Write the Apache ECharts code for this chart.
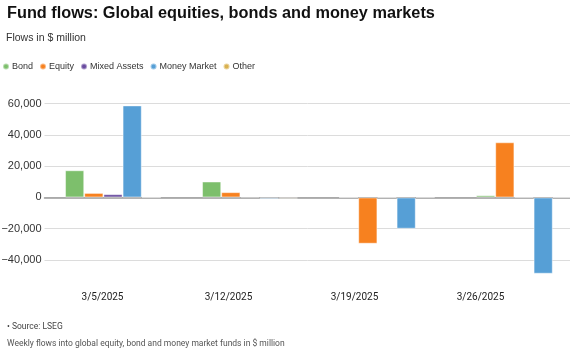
<!DOCTYPE html>
<html>
<head>
<meta charset="utf-8">
<script src="https://cdn.jsdelivr.net/npm/echarts@6/dist/echarts.min.js"></script>
<style>
html,body{margin:0;padding:0;background:#fff;}
#chart{width:570px;height:350px;}
</style>
</head>
<body>
<div id="chart"></div>
<script>
const categories = ['3/5/2025', '3/12/2025', '3/19/2025', '3/26/2025'];
const seriesNames = ['Bond', 'Equity', 'Mixed Assets', 'Money Market', 'Other'];
const bond = [17400, 10200, 100, 1400];
const equity = [2900, 3400, -29600, 35300];
const mixedAssets = [2100, 600, 100, 200];
const moneyMarket = [58900, -900, -20000, -48800];
const other = [200, -700, 300, 100];
const colors = ['#7dbf6c', '#f7811f', '#6a4ca0', '#569fd6', '#d9b14f'];

const values = [bond, equity, mixedAssets, moneyMarket, other];

const chart = echarts.init(document.getElementById('chart'), null, {renderer: 'canvas'});
const option = {
  animation: false,
  title: [
    {text: 'Fund flows: Global equities, bonds and money markets', left: 2, top: 1,
     textStyle: {fontFamily: 'Liberation Sans', fontWeight: 'bold', fontSize: 16.3, color: '#111'}},
    {text: 'Flows in $ million', left: 1, top: 28,
     textStyle: {fontFamily: 'Liberation Sans', fontWeight: 'normal', fontSize: 10.5, color: '#333'}},
    {text: '• Source: LSEG', left: 2, top: 317,
     textStyle: {fontFamily: 'Roboto', fontWeight: 'normal', fontSize: 8.5, color: '#444'}},
    {text: 'Weekly flows into global equity, bond and money market funds in $ million', left: 2, top: 334,
     textStyle: {fontFamily: 'Roboto', fontWeight: 'normal', fontSize: 8.5, color: '#555'}}
  ],
  legend: {
    left: -3, top: 57, icon: 'circle', itemWidth: 6, itemHeight: 6, itemGap: 6,
    textStyle: {fontFamily: 'Liberation Sans', fontSize: 9, color: '#333', padding: [0, 0, 0, -2]},
    data: seriesNames
  },
  grid: [
    {left: 44.5, width: 548, top: 103.7, height: 171.9, containLabel: false, outerBoundsMode: 'none'},
    {left: 39.5, width: 504, top: 103.7, height: 171.9, containLabel: false, outerBoundsMode: 'none'}
  ],
  xAxis: [
    {type: 'category', gridIndex: 0, data: categories,
     axisLine: {onZero: true, lineStyle: {color: '#999', width: 1.5}},
     axisTick: {show: false}, axisLabel: {show: false}, splitLine: {show: false}},
    {type: 'category', gridIndex: 1, data: categories, position: 'bottom',
     axisLine: {show: false}, axisTick: {show: false},
     axisLabel: {fontFamily: 'Roboto', fontSize: 10, color: '#222', margin: 17}}
  ],
  yAxis: [
    {type: 'value', gridIndex: 0, min: -50000, max: 60000, interval: 10000,
     axisLine: {show: false}, axisTick: {show: false},
     axisLabel: {fontFamily: 'Liberation Sans', fontSize: 11, color: '#333', margin: 3,
       formatter: v => (v % 20000 === 0 ? (v < 0 ? '\u2212' : '') + Math.abs(v).toLocaleString('en-US') : '')},
     splitLine: {lineStyle: {color: ['transparent', '#dcdcdc'], width: 1}}},
    {type: 'value', gridIndex: 1, min: -50000, max: 60000, show: false}
  ],
  series: seriesNames.map((name, i) => ({
    name: name, type: 'bar', xAxisIndex: 0, yAxisIndex: 0,
    data: values[i], barCategoryGap: '30%', barGap: '0%',
    itemStyle: {color: colors[i], borderColor: 'rgba(255,255,255,0.45)', borderWidth: 1}
  })),
  color: colors
};
chart.setOption(option);
</script>
</body>
</html>
